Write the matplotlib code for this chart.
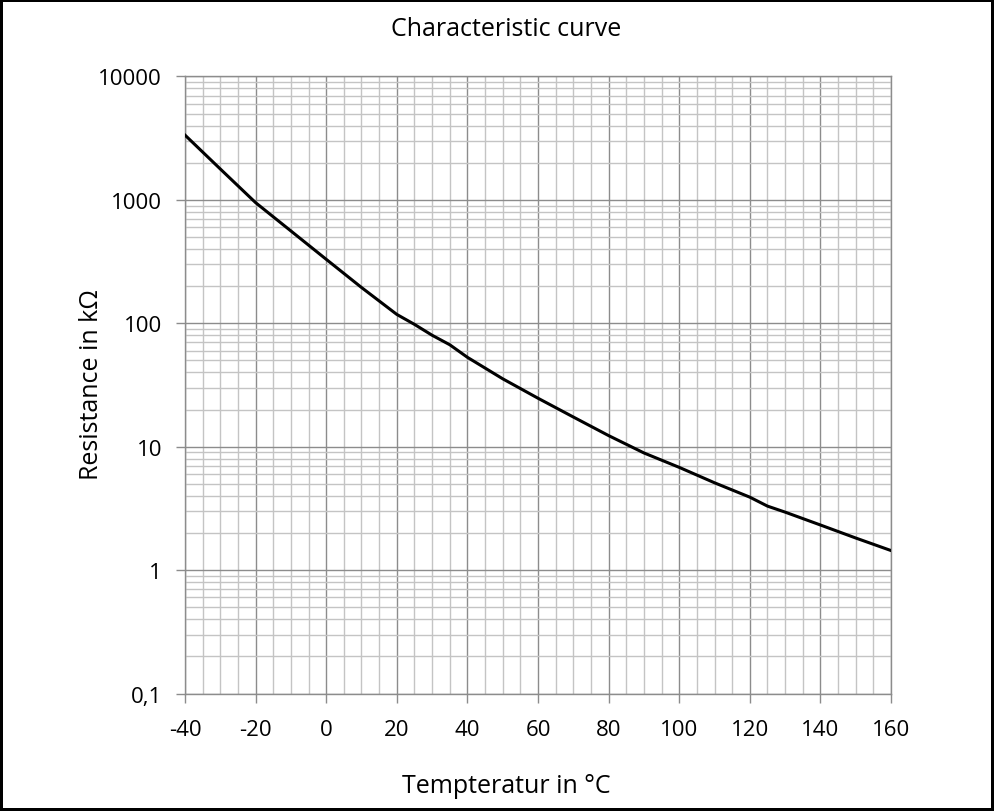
import matplotlib
matplotlib.use('Agg')
import matplotlib.pyplot as plt
from matplotlib.ticker import MultipleLocator, LogLocator, NullFormatter

plt.rcParams['font.family'] = ['Open Sans', 'DejaVu Sans']

# temperature in degC, resistance in kOhm
temp = [-40, -30, -20, -10, 0, 10, 20, 25, 30, 35, 40, 50, 60, 70, 80, 90,
        100, 110, 120, 125, 130, 140, 150, 160]
res = [3350, 1780, 950, 560, 330, 195, 118, 98, 80, 67, 53, 35.5, 24.7, 17.4,
       12.3, 8.9, 6.8, 5.1, 3.9, 3.3, 2.95, 2.32, 1.82, 1.44]

xticks = [-40, -20, 0, 20, 40, 60, 80, 100, 120, 140, 160]
yticks = [0.1, 1, 10, 100, 1000, 10000]
ylabels = ['0,1', '1', '10', '100', '1000', '10000']

fig = plt.figure(figsize=(9.94, 8.12), dpi=100)
fig.patch.set_edgecolor('black')
fig.patch.set_linewidth(3)
ax = fig.add_axes([0.1861, 0.1447, 0.7103, 0.7599])

ax.plot(temp, res, color='black', lw=2.2, zorder=5)
ax.set_yscale('log')
ax.set_xlim(-40, 160)
ax.set_ylim(0.1, 10000)

ax.set_xticks(xticks)
ax.set_xticklabels([str(t) for t in xticks])
ax.xaxis.set_minor_locator(MultipleLocator(5))
ax.set_yticks(yticks)
ax.set_yticklabels(ylabels)
ax.yaxis.set_minor_locator(LogLocator(base=10, subs=range(2, 10), numticks=20))
ax.yaxis.set_minor_formatter(NullFormatter())

ax.grid(which='major', color='#8c8c8c', lw=1.0)
ax.grid(which='minor', color='#c4c4c4', lw=1.0)
ax.tick_params(which='major', length=6.5, width=1, color='#8c8c8c', labelsize=16)
ax.tick_params(axis='x', which='major', pad=12)
ax.tick_params(axis='y', which='major', pad=10)
ax.tick_params(which='minor', length=0)
for s in ax.spines.values():
    s.set_color('#8c8c8c')
    s.set_linewidth(1)

fig.text(506 / 994, 1 - 30 / 812, 'Characteristic curve', ha='center', va='center', fontsize=18)
fig.text(506 / 994, 1 - 787 / 812, 'Tempteratur in °C', ha='center', va='center', fontsize=18)
fig.text(92 / 994, 1 - 385 / 812, 'Resistance in kΩ', ha='center', va='center',
         rotation=90, fontsize=18)

fig.savefig('out.png', dpi=100, edgecolor=fig.get_edgecolor())
